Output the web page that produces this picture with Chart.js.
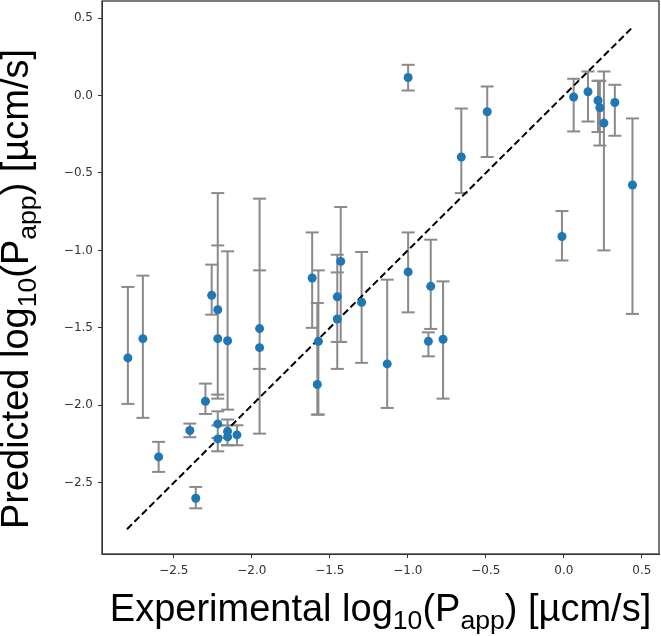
<!DOCTYPE html>
<html>
<head>
<meta charset="utf-8">
<script src="https://cdn.jsdelivr.net/npm/chart.js@4.4.0/dist/chart.umd.min.js"></script>
<style>
  html, body { margin: 0; padding: 0; background: #fff; }
</style>
</head>
<body>
<canvas id="myChart" width="661" height="636"></canvas>
<script>
// experimental vs predicted log10(Papp), error bars as [low, high]
const expX = [-2.794, -2.698, -2.597, -2.397, -2.359, -2.297, -2.257, -2.218, -2.218, -2.218,
  -2.218, -2.155, -2.155, -2.095, -2.155, -1.95, -1.95, -1.613, -1.573, -1.58,
  -1.452, -1.452, -1.43, -1.296, -1.132, -0.998, -0.998, -0.853, -0.868, -0.774,
  -0.657, -0.491, -0.012, 0.063, 0.155, 0.219, 0.231, 0.257, 0.327, 0.44];
const predY = [-1.694, -1.570, -2.333, -2.163, -2.60, -1.974, -1.29, -1.383, -1.57, -2.12,
  -2.217, -2.168, -2.204, -2.191, -1.583, -1.505, -1.628, -1.178, -1.587, -1.866,
  -1.30, -1.443, -1.071, -1.335, -1.733, 0.116, -1.139, -1.232, -1.587, -1.574,
  -0.397, -0.105, -0.91, -0.01, 0.024, -0.032, -0.079, -0.178, -0.045, -0.578];
const errLow = [-1.991, -2.081, -2.43, -2.206, -2.665, -2.056, -1.415, -1.931, -1.957, -2.21,
  -2.297, -2.258, -2.258, -2.258, -2.028, -1.765, -2.183, -1.50, -2.06, -2.06,
  -1.765, -1.591, -1.591, -1.726, -2.017, 0.032, -1.40, -1.507, -1.684, -1.957,
  -0.63, -0.397, -1.065, -0.232, -0.168, -0.236, -0.323, -1.0, -0.26, -1.41];
const errHigh = [-1.236, -1.163, -2.236, -2.118, -2.527, -1.86, -1.092, -0.968, -0.63, -2.039,
  -2.13, -2.092, -2.13, -2.129, -1.006, -0.666, -1.129, -0.884, -1.129, -1.34,
  -1.028, -1.142, -0.72, -1.01, -1.189, 0.198, -0.884, -0.931, -1.529, -1.2,
  -0.084, 0.058, -0.746, 0.108, 0.155, 0.095, 0.095, 0.155, 0.069, -0.148];
const tickVals = [-2.5, -2.0, -1.5, -1.0, -0.5, 0.0, 0.5];
const lineEnds = [-2.8, 0.44];
const axisMin = -2.96, axisMax = 0.61;

const pts = expX.map((x, i) => ({x: x, y: predY[i]}));
const bars = [];
expX.forEach((x, i) => {
  bars.push({x: x, y: errLow[i]}, {x: x, y: errHigh[i]}, {x: x, y: null});
});
const diag = lineEnds.map(v => ({x: v, y: v}));

function fmt(v) {
  return (v < 0 ? '\u2212' : '') + Math.abs(v).toFixed(1);
}

// axis titles with subscripts
function drawLabel(ctx, parts, size) {
  const sub = size * 0.7;
  let w = 0;
  parts.forEach(p => {
    ctx.font = (p[1] ? sub : size) + 'px "Liberation Sans", Arial, sans-serif';
    p.w = ctx.measureText(p[0]).width;
    w += p.w;
  });
  let x = -w / 2;
  parts.forEach(p => {
    ctx.font = (p[1] ? sub : size) + 'px "Liberation Sans", Arial, sans-serif';
    ctx.fillText(p[0], x, p[1] ? size * 0.2 : 0);
    x += p.w;
  });
}

const titles = {
  id: 'titles',
  afterDraw(chart) {
    const ctx = chart.ctx, a = chart.chartArea;
    ctx.save();
    ctx.strokeStyle = '#333';
    ctx.lineWidth = 1.3;
    ctx.strokeRect(a.left, a.top, a.right - a.left, a.bottom - a.top);
    ctx.fillStyle = '#000';
    ctx.textBaseline = 'alphabetic';
    ctx.textAlign = 'left';
    ctx.save();
    ctx.translate((a.left + a.right) / 2, 621);
    drawLabel(ctx, [['Experimental log'], ['10', 1], ['(P'], ['app', 1], [') [\u00b5cm/s]']], 38);
    ctx.restore();
    ctx.save();
    ctx.translate(28, 289);
    ctx.rotate(-Math.PI / 2);
    drawLabel(ctx, [['Predicted log'], ['10', 1], ['(P'], ['app', 1], [') [\u00b5cm/s]']], 38);
    ctx.restore();
    ctx.restore();
  }
};

function noPad(s) {
  s.paddingTop = 0; s.paddingBottom = 0; s.paddingLeft = 0; s.paddingRight = 0;
}

const axisCommon = {
  type: 'linear',
  min: axisMin,
  max: axisMax,
  afterBuildTicks: s => { s.ticks = tickVals.map(v => ({value: v})); },
  grid: {display: true, drawOnChartArea: false, drawTicks: true, tickLength: 4, color: '#333'},
  border: {display: true, color: '#333', width: 1}
};

const ctx = document.getElementById('myChart').getContext('2d');
new Chart(ctx, {
  type: 'scatter',
  data: {
    datasets: [{
      data: pts,
      backgroundColor: '#1f77b4',
      borderWidth: 0,
      pointRadius: 4.5,
      order: 0
    }, {
      type: 'line',
      data: diag,
      borderColor: '#000',
      borderWidth: 2,
      borderDash: [7, 3.5],
      pointRadius: 0,
      order: 1
    }, {
      type: 'line',
      data: bars,
      borderColor: '#8a8a8a',
      borderWidth: 2,
      spanGaps: false,
      pointStyle: 'line',
      pointRadius: 6.5,
      pointBorderWidth: 2,
      pointBorderColor: '#8a8a8a',
      order: 2
    }]
  },
  options: {
    responsive: false,
    animation: false,
    devicePixelRatio: 1,
    events: [],
    layout: {autoPadding: false, padding: {top: 1, right: 2, left: 0, bottom: 0}},
    plugins: {legend: {display: false}, tooltip: {enabled: false}},
    scales: {
      x: Object.assign({}, axisCommon, {
        afterFit: s => { s.height = 82; noPad(s); },
        ticks: {callback: fmt, color: '#333', padding: 6, maxRotation: 0,
          font: {family: 'DejaVu Sans', size: 12}}
      }),
      y: Object.assign({}, axisCommon, {
        afterFit: s => { s.width = 102; noPad(s); },
        ticks: {callback: fmt, color: '#333', padding: 5,
          font: {family: 'DejaVu Sans', size: 12}}
      })
    }
  },
  plugins: [titles]
});
</script>
</body>
</html>
